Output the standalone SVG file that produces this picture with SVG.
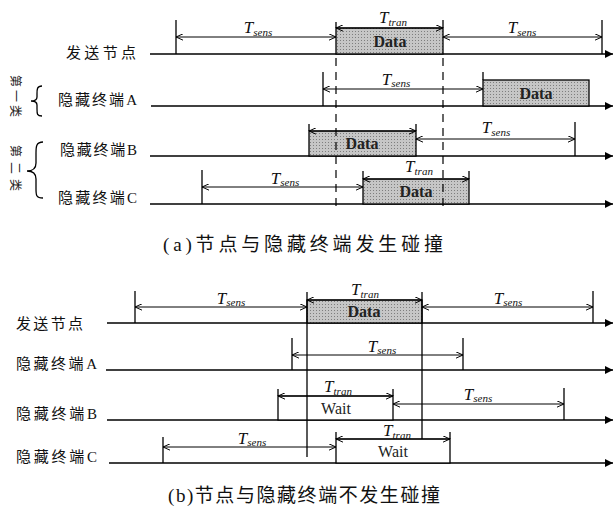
<svg xmlns="http://www.w3.org/2000/svg" width="615" height="511" viewBox="0 0 615 511">
<style>
.ln{stroke:#000;stroke-width:1.3;fill:none}
.tk{stroke:#000;stroke-width:1.3;fill:none}
.dim{stroke:#000;stroke-width:1;fill:none;marker-start:url(#oa);marker-end:url(#oa)}
.tl{stroke:#000;stroke-width:1.4;fill:none;marker-end:url(#fa)}
.dash{stroke:#000;stroke-width:1.2;stroke-dasharray:8 6;fill:none}
.box{fill:url(#dots);stroke:#000;stroke-width:1.3}
.wbox{fill:#fff;stroke:#000;stroke-width:1.3}
.lab{font-family:"Liberation Serif","Noto Sans CJK SC",serif;font-size:15px;fill:#111}
.cap{font-family:"Liberation Serif","Noto Sans CJK SC",serif;font-size:19px;fill:#111}
.t{font-family:"Liberation Serif",serif;font-style:italic;font-size:17px;text-anchor:middle;fill:#111}
.s{font-size:11px}
.bt{font-family:"Liberation Serif",serif;font-size:16px;font-weight:bold;text-anchor:middle;fill:#222}
.vt{font-family:"Noto Sans CJK SC",sans-serif;font-size:12px;text-anchor:middle;fill:#222}
</style>
<defs>
<marker id="oa" viewBox="0 0 10 10" refX="10" refY="5" markerWidth="7" markerHeight="7" markerUnits="userSpaceOnUse" orient="auto-start-reverse"><path d="M0,0.5 L10,5 L0,9.5" fill="none" stroke="#000" stroke-width="1.4"/></marker>
<marker id="fa" viewBox="0 0 10 10" refX="10" refY="5" markerWidth="9" markerHeight="8" markerUnits="userSpaceOnUse" orient="auto"><path d="M0,0 L10,5 L0,10 z" fill="#000"/></marker>
<pattern id="dots" width="3" height="3" patternUnits="userSpaceOnUse"><rect width="3" height="3" fill="#c6c6c6"/><rect x="1" y="1" width="1" height="1" fill="#7e7e7e"/></pattern>
</defs>

<!-- ===== (a) ===== -->
<g id="a-labels">
<text class="lab" x="66" y="58" textLength="70" lengthAdjust="spacing">发送节点</text>
<text class="lab" x="58" y="105" textLength="79" lengthAdjust="spacing">隐藏终端A</text>
<text class="lab" x="60" y="155" textLength="77" lengthAdjust="spacing">隐藏终端B</text>
<text class="lab" x="58" y="203" textLength="79" lengthAdjust="spacing">隐藏终端C</text>
<text class="vt" transform="translate(15,96) rotate(90)" dy="4" textLength="42" lengthAdjust="spacing">第一类</text>
<text class="vt" transform="translate(15,168) rotate(90)" dy="4" textLength="46" lengthAdjust="spacing">第二类</text>
<path class="ln" d="M42,86 C37,86 37,89 37,94 L37,97 C37,100 35,101 31,101 C35,101 37,102 37,105 L37,109 C37,114 37,116 42,116"/>
<path class="ln" d="M43,142 C36,142 36,147 36,153 L36,163 C36,168 33,171 27,171 C33,171 36,174 36,179 L36,189 C36,195 36,198 43,198"/>
</g>

<g id="a-sender">
<line class="tl" x1="150" y1="54" x2="613" y2="54"/>
<line class="tk" x1="176" y1="20" x2="176" y2="54"/>
<line class="dim" x1="176" y1="37" x2="336" y2="37"/>
<text class="t" x="258" y="33">T<tspan class="s" dy="3">sens</tspan></text>
<rect class="box" x="336" y="28" width="107" height="26"/>
<line class="tk" x1="336" y1="22" x2="336" y2="28"/>
<line class="tk" x1="443" y1="20" x2="443" y2="28"/>
<line class="dim" x1="336" y1="28" x2="443" y2="28"/>
<text class="t" x="393" y="23">T<tspan class="s" dy="3">tran</tspan></text>
<text class="bt" x="390" y="47">Data</text>
<line class="dim" x1="443" y1="37" x2="602" y2="37"/>
<line class="tk" x1="602" y1="20" x2="602" y2="54"/>
<text class="t" x="522" y="33">T<tspan class="s" dy="3">sens</tspan></text>
</g>

<g id="a-nodeA">
<line class="tl" x1="151" y1="106" x2="613" y2="106"/>
<line class="tk" x1="323" y1="72" x2="323" y2="106"/>
<line class="dim" x1="323" y1="89" x2="483" y2="89"/>
<text class="t" x="396" y="85">T<tspan class="s" dy="2">sens</tspan></text>
<rect class="box" x="483" y="80" width="106" height="26"/>
<line class="tk" x1="483" y1="72" x2="483" y2="80"/>
<text class="bt" x="536" y="99">Data</text>
</g>

<g id="a-nodeB">
<line class="tl" x1="150" y1="156" x2="613" y2="156"/>
<rect class="box" x="309" y="131" width="107" height="25"/>
<line class="tk" x1="309" y1="124" x2="309" y2="131"/>
<line class="tk" x1="416" y1="124" x2="416" y2="131"/>
<line class="dim" x1="309" y1="131" x2="416" y2="131"/>
<text class="bt" x="362" y="149">Data</text>
<line class="dim" x1="416" y1="139" x2="575" y2="139"/>
<line class="tk" x1="575" y1="122" x2="575" y2="156"/>
<text class="t" x="496" y="133">T<tspan class="s" dy="3">sens</tspan></text>
</g>

<g id="a-nodeC">
<line class="tl" x1="150" y1="204" x2="613" y2="204"/>
<line class="tk" x1="202" y1="170" x2="202" y2="204"/>
<line class="dim" x1="202" y1="187" x2="363" y2="187"/>
<text class="t" x="285" y="184">T<tspan class="s" dy="2">sens</tspan></text>
<rect class="box" x="363" y="179" width="106" height="25"/>
<line class="tk" x1="363" y1="171" x2="363" y2="179"/>
<line class="tk" x1="469" y1="171" x2="469" y2="179"/>
<line class="dim" x1="363" y1="179" x2="469" y2="179"/>
<text class="t" x="419" y="172">T<tspan class="s" dy="3">tran</tspan></text>
<text class="bt" x="416" y="197">Data</text>
</g>

<g id="a-connectors">
<line class="dash" x1="336" y1="58" x2="336" y2="210"/>
<line class="dash" x1="443" y1="58" x2="443" y2="210"/>
</g>

<text class="cap" x="163" y="251" textLength="280" lengthAdjust="spacing">(a)节点与隐藏终端发生碰撞</text>

<!-- ===== (b) ===== -->
<g id="b-labels">
<text class="lab" x="16" y="329" textLength="67" lengthAdjust="spacing">发送节点</text>
<text class="lab" x="16" y="369" textLength="81" lengthAdjust="spacing">隐藏终端A</text>
<text class="lab" x="16" y="419" textLength="81" lengthAdjust="spacing">隐藏终端B</text>
<text class="lab" x="16" y="462" textLength="81" lengthAdjust="spacing">隐藏终端C</text>
</g>

<g id="b-sender">
<line class="tl" x1="107" y1="323" x2="613" y2="323"/>
<line class="tk" x1="135" y1="291" x2="135" y2="323"/>
<line class="dim" x1="135" y1="307" x2="307" y2="307"/>
<text class="t" x="231" y="304">T<tspan class="s" dy="2">sens</tspan></text>
<rect class="box" x="307" y="300" width="115" height="23"/>
<line class="dim" x1="307" y1="300" x2="422" y2="300"/>
<text class="t" x="365" y="295">T<tspan class="s" dy="3">tran</tspan></text>
<text class="bt" x="364" y="317">Data</text>
<line class="dim" x1="422" y1="307" x2="593" y2="307"/>
<line class="tk" x1="593" y1="291" x2="593" y2="323"/>
<text class="t" x="508" y="304">T<tspan class="s" dy="2">sens</tspan></text>
</g>

<g id="b-nodeA">
<line class="tl" x1="106" y1="370" x2="613" y2="370"/>
<line class="tk" x1="292" y1="338" x2="292" y2="370"/>
<line class="dim" x1="292" y1="355" x2="463" y2="355"/>
<line class="tk" x1="463" y1="338" x2="463" y2="370"/>
<text class="t" x="382" y="352">T<tspan class="s" dy="2">sens</tspan></text>
</g>

<g id="b-nodeB">
<line class="tl" x1="107" y1="420" x2="613" y2="420"/>
<rect class="wbox" x="278" y="396" width="115" height="24"/>
<line class="tk" x1="278" y1="389" x2="278" y2="396"/>
<line class="tk" x1="393" y1="389" x2="393" y2="396"/>
<line class="dim" x1="278" y1="396" x2="393" y2="396"/>
<text class="t" x="338" y="392">T<tspan class="s" dy="3">tran</tspan></text>
<text class="bt" x="336" y="414" style="font-weight:normal">Wait</text>
<line class="dim" x1="393" y1="404" x2="564" y2="404"/>
<line class="tk" x1="564" y1="388" x2="564" y2="420"/>
<text class="t" x="478" y="400">T<tspan class="s" dy="2">sens</tspan></text>
</g>

<g id="b-nodeC">
<line class="tl" x1="109" y1="463" x2="613" y2="463"/>
<line class="tk" x1="163" y1="437" x2="163" y2="463"/>
<line class="dim" x1="163" y1="447" x2="336" y2="447"/>
<text class="t" x="252" y="444">T<tspan class="s" dy="2">sens</tspan></text>
<rect class="wbox" x="336" y="439" width="114" height="24"/>
<line class="tk" x1="336" y1="432" x2="336" y2="439"/>
<line class="tk" x1="450" y1="432" x2="450" y2="439"/>
<line class="dim" x1="336" y1="439" x2="450" y2="439"/>
<text class="t" x="397" y="436">T<tspan class="s" dy="3">tran</tspan></text>
<text class="bt" x="393" y="457" style="font-weight:normal">Wait</text>
</g>

<g id="b-connectors">
<line class="tk" x1="307" y1="292" x2="307" y2="457"/>
<line class="tk" x1="422" y1="292" x2="422" y2="439"/>
</g>

<text class="cap" x="168" y="502" textLength="272" lengthAdjust="spacing">(b)节点与隐藏终端不发生碰撞</text>
</svg>
